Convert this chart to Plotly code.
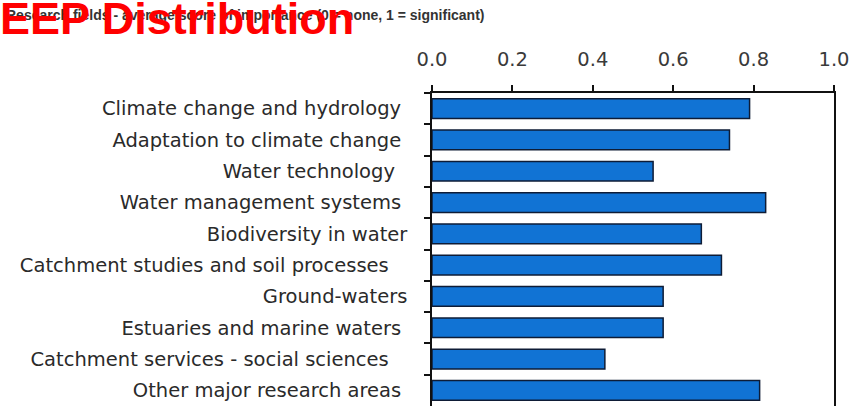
import plotly.graph_objects as go

categories = [
    "Climate change and hydrology\u00a0",
    "Adaptation to climate change\u00a0",
    "Water technology\u00a0\u00a0",
    "Water management systems\u00a0",
    "Biodiversity in water",
    "Catchment studies and soil processes\u00a0\u00a0\u00a0",
    "Ground-waters",
    "Estuaries and marine waters\u00a0",
    "Catchment services - social sciences\u00a0\u00a0\u00a0",
    "Other major research areas\u00a0",
]
values = [0.79, 0.74, 0.55, 0.83, 0.67, 0.72, 0.575, 0.575, 0.43, 0.815]
x_ticks = [0.0, 0.2, 0.4, 0.6, 0.8, 1.0]

title_text = "Research fields - average score of importance (0 = none, 1 = significant)"
watermark = "EEP Distribution"

W, H = 851, 408
L, R, T, B = 432, 17, 93, 2
plot_h = H - T - B
plot_w = W - L - R

def px_x(px):
    return (px - L) / plot_w

def px_y(py):
    return (H - B - py) / plot_h

fig = go.Figure(go.Bar(
    x=values, y=categories, orientation="h",
    marker=dict(color="#1173d4", line=dict(color="#0e1c36", width=1.5)),
    width=0.63,
))

fig.update_layout(
    width=W, height=H,
    margin=dict(l=L, r=R, t=T, b=B),
    paper_bgcolor="white", plot_bgcolor="white",
    showlegend=False,
    font=dict(family="DejaVu Sans", color="#333333", size=19.5),
    xaxis=dict(
        side="top", range=[0, 1], tickvals=x_ticks, tickformat=".1f",
        showgrid=False, zeroline=False,
        showline=True, linecolor="#111111", linewidth=1.5,
        ticks="outside", ticklen=6, tickcolor="#111111", tickwidth=1.5,
        ticklabelstandoff=11,
        tickfont=dict(size=19.5, color="#3a3a3a"),
        fixedrange=True,
    ),
    yaxis=dict(
        autorange="reversed", showgrid=False, zeroline=False,
        showline=True, linecolor="#111111", linewidth=1.5, mirror=True,
        ticks="outside", ticklen=6, tickcolor="#111111", tickwidth=1.5,
        tickson="boundaries", ticklabelstandoff=19,
        tickfont=dict(size=19.5, color="#2a2a2a"),
        fixedrange=True,
    ),
    annotations=[
        dict(text="<b>" + title_text + "</b>", xref="paper", yref="paper",
             x=px_x(4), y=px_y(15), xanchor="left", yanchor="middle",
             showarrow=False,
             font=dict(family="Liberation Sans, Arial", size=14, color="#333333")),
        dict(text="<b>" + watermark + "</b>", xref="paper", yref="paper",
             x=px_x(-2), y=px_y(18), xanchor="left", yanchor="middle",
             showarrow=False,
             font=dict(family="Liberation Sans, Arial", size=45, color="#ff0000")),
    ],
)

fig.write_html("out.html", config={"displayModeBar": False},
               post_script="document.body.style.margin='0';")
